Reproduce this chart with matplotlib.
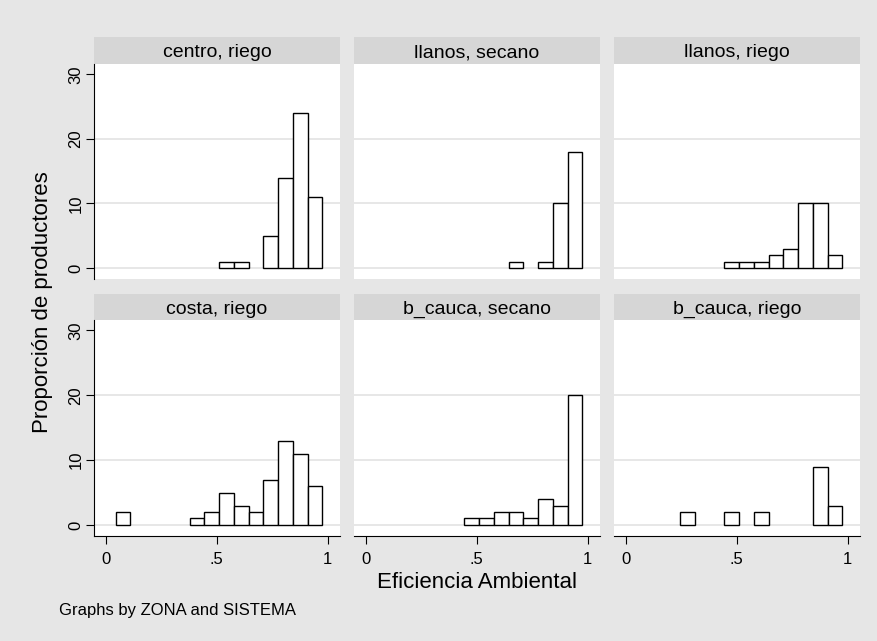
import numpy as np
import matplotlib
matplotlib.use("Agg")
import matplotlib.pyplot as plt

plt.rcParams['font.family'] = ['Liberation Sans', 'DejaVu Sans']

# common bins of the histogram (14 bins over the observed range)
bin_lo = 0.045
bin_hi = 0.976
n_bins = 14

titles = ["centro, riego", "llanos, secano", "llanos, riego",
          "costa, riego", "b_cauca, secano", "b_cauca, riego"]

# bar heights per bin, one list per panel
centro_riego   = [0, 0, 0, 0, 0, 0, 0, 1, 1, 0, 5, 14, 24, 11]
llanos_secano  = [0, 0, 0, 0, 0, 0, 0, 0, 0, 1, 0, 1, 10, 18]
llanos_riego   = [0, 0, 0, 0, 0, 0, 1, 1, 1, 2, 3, 10, 10, 2]
costa_riego    = [2, 0, 0, 0, 0, 1, 2, 5, 3, 2, 7, 13, 11, 6]
bcauca_secano  = [0, 0, 0, 0, 0, 0, 1, 1, 2, 2, 1, 4, 3, 20]
bcauca_riego   = [0, 0, 0, 2, 0, 0, 2, 0, 2, 0, 0, 0, 9, 3]
panels = [centro_riego, llanos_secano, llanos_riego,
          costa_riego, bcauca_secano, bcauca_riego]

yticks = [0, 10, 20, 30]
xticks = [0, 0.5, 1]
xticklabels = ["0", ".5", "1"]

W, H = 878, 641
bg = "#e6e6e6"
strip_col = "#d6d6d6"
grid_col = "#e3e3e3"

fig = plt.figure(figsize=(W / 100, H / 100), dpi=100, facecolor=bg)

def px(x0, y0, x1, y1):
    # pixel box (top-left origin) -> figure fraction rect
    return [x0 / W, 1 - y1 / H, (x1 - x0) / W, (y1 - y0) / H]

cols = [(94, 340), (354, 600), (614, 860)]
rows = [((37, 64), (64, 279)), ((294, 320), (320, 536))]

edges = np.linspace(bin_lo, bin_hi, n_bins + 1)
bw = edges[1] - edges[0]

for i, vals in enumerate(panels):
    r, c = divmod(i, 3)
    (sy0, sy1), (py0, py1) = rows[r]
    x0, x1 = cols[c]

    # strip with the panel title
    sax = fig.add_axes(px(x0, sy0, x1, sy1))
    sax.set_facecolor(strip_col)
    sax.set_xticks([]); sax.set_yticks([])
    for s in sax.spines.values():
        s.set_visible(False)
    sax.text(0.5, 0.25, titles[i], ha="center", va="baseline",
             fontsize=14, transform=sax.transAxes)

    ax = fig.add_axes(px(x0, py0, x1, py1))
    ax.set_facecolor("white")
    ax.set_xlim(-0.0527, 1.0554)
    ax.set_ylim(-1.7, 31.6)
    for yv in yticks[:-1]:
        ax.axhline(yv, color=grid_col, lw=1.2, zorder=0)

    vals = np.array(vals)
    keep = vals > 0
    ax.bar(edges[:-1][keep], vals[keep], width=bw, align="edge",
           facecolor="white", edgecolor="black", linewidth=1.0, zorder=2)

    for s in ["top", "right"]:
        ax.spines[s].set_visible(False)
    ax.spines["left"].set_visible(c == 0)
    ax.spines["bottom"].set_visible(r == 1)
    ax.spines["left"].set_linewidth(0.8)
    ax.spines["bottom"].set_linewidth(0.8)

    if c == 0:
        ax.set_yticks(yticks)
        ax.set_yticklabels([str(v) for v in yticks], rotation=90, va="center")
        ax.tick_params(axis="y", length=5.5, width=0.8, pad=2, labelsize=12)
    else:
        ax.set_yticks([])
    if r == 1:
        ax.set_xticks(xticks)
        ax.set_xticklabels(xticklabels)
        ax.tick_params(axis="x", length=5.5, width=0.8, pad=6, labelsize=12)
    else:
        ax.set_xticks([])

fig.text(43 / W, 1 - 302 / H, "Proporción de productores", rotation=90,
         ha="center", va="center", fontsize=16)
fig.text(477 / W, 1 - 583 / H, "Eficiencia Ambiental",
         ha="center", va="center", fontsize=16)
fig.text(59 / W, 1 - 610 / H, "Graphs by ZONA and SISTEMA",
         ha="left", va="center", fontsize=12)

fig.savefig("out.png", dpi=100, facecolor=bg)
